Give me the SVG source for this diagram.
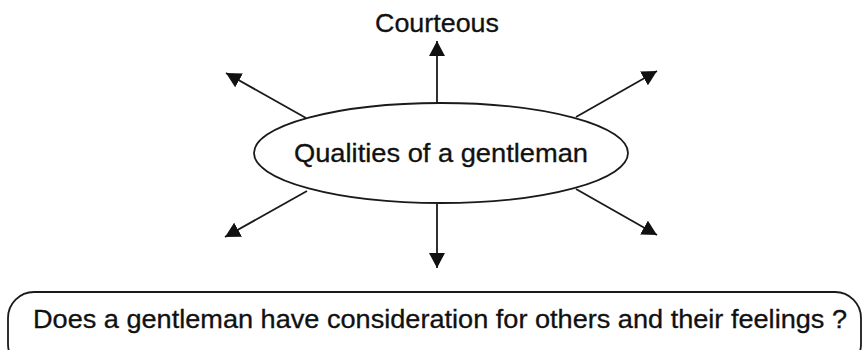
<svg xmlns="http://www.w3.org/2000/svg" width="864" height="350" viewBox="0 0 864 350">
<style>
.t{font-family:"Liberation Sans",Arial,sans-serif;fill:#111;stroke:#111;stroke-width:0.3}
.s{fill:#fff;stroke:#1a1a1a;stroke-width:1.8}
.c{stroke:#1a1a1a;stroke-width:1.8;fill:none;marker-end:url(#ah)}
</style>
<defs>
<marker id="ah" markerUnits="userSpaceOnUse" markerWidth="16" markerHeight="16" refX="15" refY="8" orient="auto">
<path d="M0,0 L15,8 L0,16 Z" fill="#111"/>
</marker>
</defs>
<rect width="864" height="350" fill="#fff"/>
<g id="connectors">
<line class="c" x1="437" y1="103" x2="437" y2="41"/>
<line class="c" x1="306" y1="118" x2="226" y2="73"/>
<line class="c" x1="576" y1="117" x2="657" y2="71"/>
<line class="c" x1="307" y1="191" x2="225" y2="237"/>
<line class="c" x1="576" y1="189" x2="657" y2="235"/>
<line class="c" x1="437" y1="204" x2="437" y2="268"/>
</g>
<g id="courteous">
<text class="t" x="437" y="32" font-size="26" text-anchor="middle" textLength="124" lengthAdjust="spacingAndGlyphs">Courteous</text>
</g>
<g id="center">
<ellipse class="s" cx="441" cy="153" rx="187" ry="50"/>
<text class="t" x="441" y="162" font-size="25" text-anchor="middle" textLength="294" lengthAdjust="spacingAndGlyphs">Qualities of a gentleman</text>
</g>
<g id="question">
<rect class="s" x="8" y="292" width="853" height="78" rx="26" ry="26"/>
<text class="t" x="33" y="328" font-size="25" textLength="814" lengthAdjust="spacingAndGlyphs">Does a gentleman have consideration for others and their feelings ?</text>
</g>
</svg>
